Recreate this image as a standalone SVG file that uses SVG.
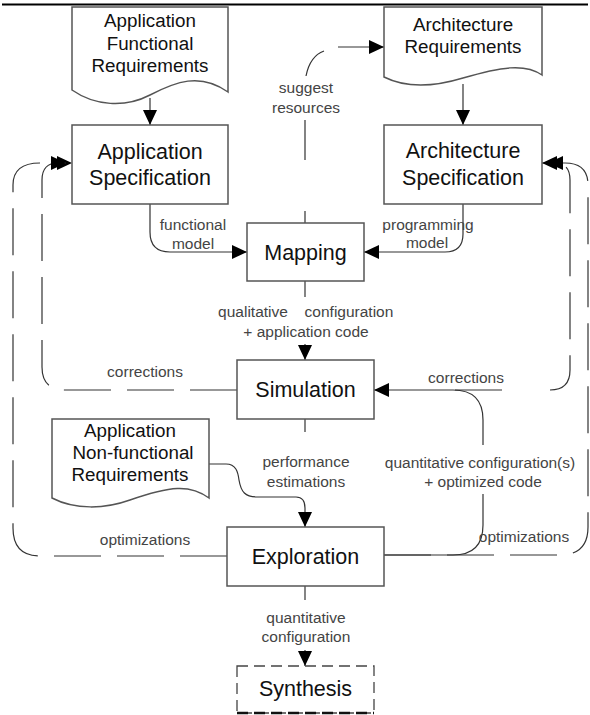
<svg xmlns="http://www.w3.org/2000/svg" width="590" height="715" viewBox="0 0 590 715">
<defs>
<marker id="ah" markerWidth="16" markerHeight="16" refX="15" refY="7" orient="auto" markerUnits="userSpaceOnUse"><path d="M0,0 L15,7 L0,14 z" fill="#000"/></marker>
<style>
.box{fill:#fff;stroke:#555;stroke-width:1.5}
.nt{font-family:"Liberation Sans",Arial,sans-serif;font-size:21.5px;fill:#111;text-anchor:middle}
.dt{font-family:"Liberation Sans",Arial,sans-serif;font-size:18.8px;fill:#111;text-anchor:middle}
.lb{font-family:"Liberation Sans",Arial,sans-serif;font-size:15.5px;fill:#444;text-anchor:middle}
.ln{fill:none;stroke:#333;stroke-width:1.2}
.da{fill:none;stroke:#333;stroke-width:1.2;stroke-dasharray:47 16}
</style>
</defs>
<rect width="590" height="715" fill="#fff"/>
<path d="M2,4.5 H588" stroke="#000" stroke-width="2"/>

<g id="connectors">
<path class="ln" d="M150,98 V125" marker-end="url(#ah)"/>
<path class="ln" d="M463,84 V125" marker-end="url(#ah)"/>
<path class="ln" d="M150,204 V232 Q150,252 170,252 H247" marker-end="url(#ah)"/>
<path class="ln" d="M463,204 V234 Q463,252 445,252 H364" marker-end="url(#ah)"/>
<path class="ln" d="M305,281 V297"/>
<path class="ln" d="M305,344 V360" marker-end="url(#ah)"/>
<path class="ln" d="M305,223 V211 M305,160 V120"/>
<path class="ln" d="M306,76 Q310,56 324,51"/>
<path class="ln" d="M338,47 H384" marker-end="url(#ah)"/>
<path class="da" d="M237,390 H65 Q42,390 42,367 V180 Q42,163 58,163 H72" marker-end="url(#ah)"/>
<path class="da" d="M227,556 H40 Q13,556 13,528 V185 Q13,163 40,163 H66" marker-end="url(#ah)"/>
<path class="da" d="M550,390 Q570,390 570,370 V180 Q570,163 555,163 H542" marker-end="url(#ah)"/>
<path class="da" d="M502,390 H440"/>
<path class="da" d="M384,555 H560 Q588,555 588,527 V185 Q588,163 565,163 H548" marker-end="url(#ah)"/>
<path class="ln" d="M483,445 V420 Q483,390 453,390 H374" marker-end="url(#ah)"/>
<path class="ln" d="M483,494 V525 Q483,555 453,555 H384"/>
<path class="ln" d="M305,419 V432"/>
<path class="ln" d="M209,464 H226 C236,464 238,472 239,480 C241,492 245,497 258,497 H296 C303,497 305,502 305,508 V527" marker-end="url(#ah)"/>
<path class="ln" d="M305,586 V600"/>
<path class="ln" d="M305,650 V666" marker-end="url(#ah)"/>
</g>

<g id="labels">
<text class="lb" x="306" y="93">suggest</text>
<text class="lb" x="306" y="113">resources</text>
<text class="lb" x="193" y="230">functional</text>
<text class="lb" x="193" y="249">model</text>
<text class="lb" x="428" y="230">programming</text>
<text class="lb" x="427" y="248">model</text>
<text class="lb" x="253" y="317">qualitative</text>
<text class="lb" x="349" y="317">configuration</text>
<text class="lb" x="306" y="337">+ application code</text>
<text class="lb" x="145" y="377">corrections</text>
<text class="lb" x="466" y="383">corrections</text>
<text class="lb" x="306" y="467">performance</text>
<text class="lb" x="306" y="487">estimations</text>
<text class="lb" x="480" y="468">quantitative configuration(s)</text>
<text class="lb" x="483" y="487">+ optimized code</text>
<text class="lb" x="145" y="545">optimizations</text>
<text class="lb" x="524" y="542">optimizations</text>
<text class="lb" x="306" y="623">quantitative</text>
<text class="lb" x="306" y="642">configuration</text>
</g>

<g id="app-func-req">
<path class="box" d="M72,7 H228 V92 C200,72 175,82 150,95 C125,108 95,106 72,90 Z"/>
<text class="dt" x="150" y="27">Application</text>
<text class="dt" x="150" y="50">Functional</text>
<text class="dt" x="150" y="72">Requirements</text>
</g>
<g id="arch-req">
<path class="box" d="M384,7 H542 V75 C525,63 500,67 463,78 C440,85 410,90 384,77 Z"/>
<text class="dt" x="463" y="31">Architecture</text>
<text class="dt" x="463" y="53">Requirements</text>
</g>
<g id="app-spec">
<rect class="box" x="72" y="125" width="156" height="79"/>
<text class="nt" x="150" y="159">Application</text>
<text class="nt" x="150" y="185">Specification</text>
</g>
<g id="arch-spec">
<rect class="box" x="384" y="125" width="158" height="79"/>
<text class="nt" x="463" y="158">Architecture</text>
<text class="nt" x="463" y="185">Specification</text>
</g>
<g id="mapping">
<rect class="box" x="247" y="223" width="117" height="58"/>
<text class="nt" x="305.5" y="260">Mapping</text>
</g>
<g id="simulation">
<rect class="box" x="237" y="360" width="137" height="59"/>
<text class="nt" x="305.5" y="397">Simulation</text>
</g>
<g id="app-nonfunc-req">
<path class="box" d="M52,419 H209 V498 C190,484 170,486 130,500 C105,509 75,510 52,498 Z"/>
<text class="dt" x="130" y="437">Application</text>
<text class="dt" x="133" y="459">Non-functional</text>
<text class="dt" x="130" y="481">Requirements</text>
</g>
<g id="exploration">
<rect class="box" x="227" y="527" width="157" height="59"/>
<text class="nt" x="305.5" y="564">Exploration</text>
</g>
<g id="synthesis">
<rect x="237" y="666" width="137" height="47" fill="#fff" stroke="#444" stroke-width="1.3" stroke-dasharray="11 6"/>
<path d="M237,713 H374" stroke="#111" stroke-width="2.5" stroke-dasharray="11 6" fill="none"/>
<text class="nt" x="305.5" y="696">Synthesis</text>
</g>
</svg>
